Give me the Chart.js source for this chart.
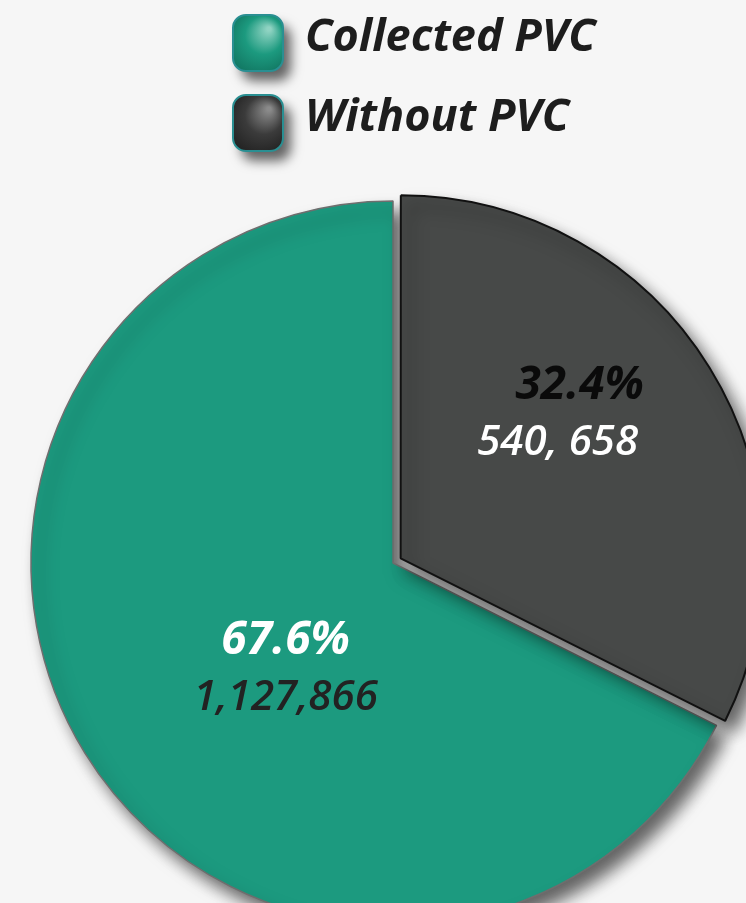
<!DOCTYPE html>
<html>
<head>
<meta charset="utf-8">
<script src="https://cdn.jsdelivr.net/npm/chart.js@4"></script>
<style>
  html, body { margin: 0; padding: 0; width: 746px; height: 903px; overflow: hidden; background: #f6f6f6; }
  #wrap { position: absolute; left: 0; top: 0; }
</style>
</head>
<body>
<div id="wrap"><canvas id="pvcPie" width="786" height="960"></canvas></div>
<script>
const categories = ['Collected PVC', 'Without PVC'];
const values = [1127866, 540658];
const percentLabels = ['67.6%', '32.4%'];
const valueLabels = ['1,127,866', '540, 658'];
const sliceColors = ['#1c9a7f', '#474948'];
const boxColors = [['#8fd3c2', '#1c9a7f', '#0e6b58'], ['#8a8a8a', '#3b3b3b', '#1a1a1a']];
const sliceOffsets = [0, 36];

const total = values.reduce((a, b) => a + b, 0);
const startRotation = values[1] / total * 360;

// slice fill with a light rim toward the upper left
function sliceFill(context) {
    const i = context.dataIndex;
    const chart = context.chart;
    const arc = chart.getDatasetMeta(0).data[i];
    if (!arc || !arc.outerRadius) return sliceColors[i];
    const r = arc.outerRadius;
    const g = chart.ctx.createRadialGradient(arc.x + 14, arc.y + 14, 0, arc.x + 14, arc.y + 14, r + 14);
    const rim = i === 0 ? '#86cdbb' : '#8d8f8e';
    g.addColorStop(0, sliceColors[i]);
    g.addColorStop(0.955, sliceColors[i]);
    g.addColorStop(1, rim);
    return g;
}

const shadowPlugin = {
    id: 'sliceShadow',
    beforeDatasetsDraw(chart) {
        const ctx = chart.ctx;
        ctx.save();
        ctx.shadowColor = 'rgba(0,0,0,0.6)';
        ctx.shadowBlur = 16;
        ctx.shadowOffsetX = 9;
        ctx.shadowOffsetY = 11;
    },
    afterDatasetsDraw(chart) {
        chart.ctx.restore();
    }
};

const labelPlugin = {
    id: 'sliceLabels',
    afterDatasetsDraw(chart) {
        const ctx = chart.ctx;
        const meta = chart.getDatasetMeta(0);
        const fractions = [0.42, 0.5];
        const nudges = [[22, 26], [-20, -35]];
        const topColors = ['#ffffff', '#0a0a0a'];
        const bottomColors = ['#222222', '#ffffff'];
        meta.data.forEach((arc, i) => {
            const mid = (arc.startAngle + arc.endAngle) / 2;
            const dist = arc.outerRadius * fractions[i] + sliceOffsets[i];
            const x = arc.x + Math.cos(mid) * dist + nudges[i][0];
            const y = arc.y + Math.sin(mid) * dist + nudges[i][1];
            ctx.save();
            ctx.textAlign = 'center';
            ctx.textBaseline = 'middle';
            ctx.font = 'italic bold 46px "Open Sans"';
            ctx.fillStyle = topColors[i];
            ctx.fillText(percentLabels[i], x + (i === 1 ? 22 : 0), y - 28);
            ctx.font = 'italic 600 42px "Open Sans"';
            ctx.fillStyle = bottomColors[i];
            ctx.fillText(valueLabels[i], x, y + 29);
            ctx.restore();
        });
    }
};

function roundRect(ctx, x, y, w, h, r) {
    ctx.beginPath();
    ctx.moveTo(x + r, y);
    ctx.arcTo(x + w, y, x + w, y + h, r);
    ctx.arcTo(x + w, y + h, x, y + h, r);
    ctx.arcTo(x, y + h, x, y, r);
    ctx.arcTo(x, y, x + w, y, r);
    ctx.closePath();
}

const legendPlugin = {
    id: 'boxLegend',
    afterDraw(chart) {
        const ctx = chart.ctx;
        const bx = 233, bw = 50, bh = 56;
        categories.forEach((name, i) => {
            const by = 15 + i * 80;
            ctx.save();
            ctx.shadowColor = 'rgba(0,0,0,0.6)';
            ctx.shadowBlur = 12;
            ctx.shadowOffsetX = 8;
            ctx.shadowOffsetY = 10;
            const g = ctx.createRadialGradient(bx + bw * 0.72, by + bh * 0.25, 2, bx + bw * 0.5, by + bh * 0.5, bw * 0.8);
            g.addColorStop(0, boxColors[i][0]);
            g.addColorStop(0.45, boxColors[i][1]);
            g.addColorStop(1, boxColors[i][2]);
            roundRect(ctx, bx, by, bw, bh, 13);
            ctx.fillStyle = g;
            ctx.fill();
            ctx.shadowColor = 'transparent';
            ctx.lineWidth = 2;
            ctx.strokeStyle = '#2a8f92';
            ctx.stroke();
            ctx.restore();

            ctx.save();
            ctx.font = 'italic bold 45px "Open Sans"';
            ctx.fillStyle = '#1d1d1d';
            ctx.textBaseline = 'alphabetic';
            ctx.fillText(name, 305, by + 36);
            ctx.restore();
        });
    }
};

new Chart(document.getElementById('pvcPie'), {
    type: 'pie',
    data: {
        labels: categories,
        datasets: [{
            data: values,
            backgroundColor: sliceFill,
            borderColor: ['#6e6e6e', '#111111'],
            borderWidth: [1.5, 2],
            offset: sliceOffsets
        }]
    },
    options: {
        responsive: false,
        animation: false,
        rotation: startRotation,
        radius: 362,
        layout: { padding: { top: 166, left: 0, right: 0, bottom: 0 } },
        plugins: {
            legend: { display: false },
            tooltip: { enabled: false }
        }
    },
    plugins: [shadowPlugin, labelPlugin, legendPlugin]
});
</script>
</body>
</html>
